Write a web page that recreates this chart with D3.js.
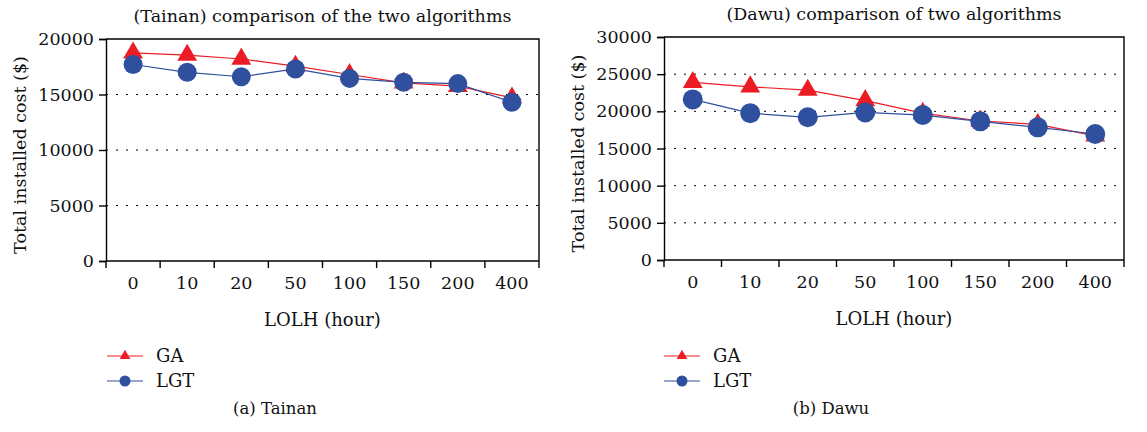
<!DOCTYPE html>
<html>
<head>
<meta charset="utf-8">
<script src="https://cdn.jsdelivr.net/npm/d3@7"></script>
<style>
  body { margin: 0; background: #fff; }
  svg { display: block; font-family: "DejaVu Serif", "Liberation Serif", serif; }
  .axis path, .axis line { stroke: #000; stroke-width: 1.4px; }
  .axis text { font-size: 17.5px; fill: #111; font-family: "DejaVu Serif", serif; }
</style>
</head>
<body>
<div id="chart"></div>
<script>

// LOLH categories (hours)
var lolh = ["0", "10", "20", "50", "100", "150", "200", "400"];

// Tainan, total installed cost ($)
var tainanGA  = [18750, 18550, 18200, 17550, 16800, 16050, 15750, 14700];
var tainanLGT = [17700, 17000, 16600, 17300, 16450, 16100, 15980, 14300];

// Dawu, total installed cost ($)
var dawuGA  = [23900, 23300, 22850, 21450, 19750, 18700, 18250, 16700];
var dawuLGT = [21600, 19750, 19200, 19850, 19500, 18650, 17850, 16950];

var tainanTicks = [0, 5000, 10000, 15000, 20000];
var dawuTicks = [0, 5000, 10000, 15000, 20000, 25000, 30000];

var seriesNames = ["GA", "LGT"];
var red = "#ec1c24", blue = "#2f4f9f";

var svg = d3.select("#chart").append("svg")
	.attr("width", 1147)
	.attr("height", 432);

function drawPanel(p) {
	var g = svg.append("g")
		.attr("transform", "translate(" + p.left + "," + p.top + ")");

	var x = d3.scaleBand().domain(lolh).range([0, p.width]);
	var y = d3.scaleLinear().domain([0, p.ticks[p.ticks.length - 1]]).range([p.height, 0]);

	// dotted gridlines (not on the frame)
	g.selectAll(".grid")
		.data(p.ticks.slice(1, -1))
		.enter().append("line")
		.attr("x1", 0).attr("x2", p.width)
		.attr("y1", d => y(d)).attr("y2", d => y(d))
		.attr("stroke", "#000")
		.attr("stroke-width", 1)
		.attr("stroke-dasharray", "2,8");

	// frame top + right
	g.append("path")
		.attr("d", "M0,0H" + p.width + "V" + p.height)
		.attr("fill", "none")
		.attr("stroke", "#000")
		.attr("stroke-width", 1.4);

	// y axis
	var yAxis = d3.axisLeft(y).tickValues(p.ticks).tickSize(7).tickPadding(5).tickFormat(d3.format("d"));
	g.append("g").attr("class", "axis").call(yAxis);

	// x axis: labels in band centres, ticks on band edges
	var xAxis = d3.axisBottom(x).tickSize(0).tickPadding(16);
	var xg = g.append("g").attr("class", "axis")
		.attr("transform", "translate(0," + p.height + ")")
		.call(xAxis);
	xg.select(".domain").attr("d", "M0,0H" + p.width);
	xg.selectAll(".edge")
		.data(lolh.concat(["end"]))
		.enter().append("line")
		.attr("x1", d => d === "end" ? p.width : x(d))
		.attr("x2", d => d === "end" ? p.width : x(d))
		.attr("y1", 0).attr("y2", 7);

	var line = d3.line()
		.x((d, i) => x(lolh[i]) + x.bandwidth() / 2)
		.y(d => y(d));

	g.append("path").datum(p.ga)
		.attr("d", line).attr("fill", "none")
		.attr("stroke", red).attr("stroke-width", 1.2);
	g.append("path").datum(p.lgt)
		.attr("d", line).attr("fill", "none")
		.attr("stroke", blue).attr("stroke-width", 1.2);

	var tri = d3.symbol().type(d3.symbolTriangle).size(p.tri);
	g.selectAll(".ga")
		.data(p.ga)
		.enter().append("path")
		.attr("d", tri)
		.attr("transform", (d, i) => "translate(" + (x(lolh[i]) + x.bandwidth() / 2) + "," + y(d) + ")")
		.attr("fill", red);

	g.selectAll(".lgt")
		.data(p.lgt)
		.enter().append("circle")
		.attr("cx", (d, i) => x(lolh[i]) + x.bandwidth() / 2)
		.attr("cy", d => y(d))
		.attr("r", p.r)
		.attr("fill", blue);

	// titles
	g.append("text")
		.attr("x", p.width / 2).attr("y", -17)
		.attr("text-anchor", "middle")
		.style("font-size", "17.5px").attr("fill", "#111")
		.text(p.title);

	g.append("text")
		.attr("x", p.width / 2).attr("y", p.height + 65)
		.attr("text-anchor", "middle")
		.style("font-size", "18px").attr("fill", "#111")
		.text("LOLH (hour)");

	g.append("text")
		.attr("transform", "translate(" + p.ylabX + "," + (p.height / 2 + 5) + ") rotate(-90)")
		.attr("text-anchor", "middle")
		.style("font-size", "17.5px").attr("fill", "#111")
		.text("Total installed cost ($)");

	// legend
	var lg = svg.append("g").attr("transform", "translate(" + p.legX + ",356)");
	seriesNames.forEach(function (name, i) {
		var row = lg.append("g").attr("transform", "translate(0," + (i * 25) + ")");
		var col = i === 0 ? red : blue;
		row.append("line").attr("x1", 0).attr("x2", 36).attr("stroke", col).attr("stroke-width", 1.2);
		if (i === 0) {
			row.append("path").attr("d", d3.symbol().type(d3.symbolTriangle).size(50)).attr("transform", "translate(18,0)").attr("fill", col);
		} else {
			row.append("circle").attr("cx", 18).attr("r", 5.5).attr("fill", col);
		}
		row.append("text").attr("x", 49).attr("dy", "0.35em")
			.style("font-size", "18px").attr("fill", "#111")
			.text(name);
	});

	svg.append("text")
		.attr("x", p.capX).attr("y", 414)
		.attr("text-anchor", "middle")
		.style("font-size", "16.5px").attr("fill", "#111")
		.text(p.caption);
}

drawPanel({
	left: 106, top: 39, width: 433, height: 222,
	ticks: tainanTicks, ga: tainanGA, lgt: tainanLGT,
	title: "(Tainan) comparison of the two algorithms",
	ylabX: -80, legX: 107, capX: 275, caption: "(a)  Tainan",
	tri: 170, r: 9.5
});

drawPanel({
	left: 664, top: 37, width: 460, height: 223,
	ticks: dawuTicks, ga: dawuGA, lgt: dawuLGT,
	title: "(Dawu) comparison of two algorithms",
	ylabX: -80, legX: 664, capX: 831, caption: "(b)  Dawu",
	tri: 170, r: 10
});

</script>
</body>
</html>
